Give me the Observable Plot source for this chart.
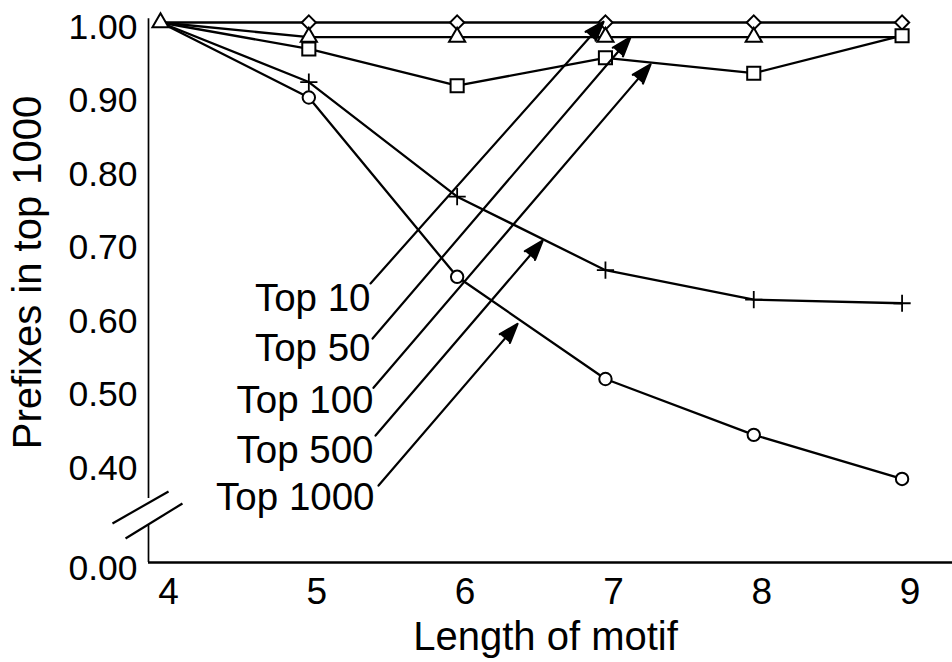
<!DOCTYPE html>
<html><head><meta charset="utf-8">
<script src="https://cdn.jsdelivr.net/npm/d3@7"></script>
<script src="https://cdn.jsdelivr.net/npm/@observablehq/plot@0.6"></script>
<style>body{margin:0;background:#fff}</style>
</head><body><div id="chart"></div>
<script>
// ---- data ----
const motifLength = [4, 5, 6, 7, 8, 9];
const top10   = [1.000, 1.000, 1.000, 1.000, 1.000, 1.000];
const top50   = [1.000, 0.980, 0.980, 0.980, 0.980, 0.980];
const top100  = [1.000, 0.964, 0.914, 0.952, 0.931, 0.982];
const top500  = [1.000, 0.919, 0.763, 0.663, 0.623, 0.618];
const top1000 = [1.000, 0.898, 0.654, 0.515, 0.439, 0.379];
const seriesNames = ["Top 10", "Top 50", "Top 100", "Top 500", "Top 1000"];
const yTickValues = [1.0, 0.9, 0.8, 0.7, 0.6, 0.5, 0.4];
const yBaseLabel = "0.00"; // value shown at the broken axis origin
const xTickValues = [4, 5, 6, 7, 8, 9];
// annotation labels and arrows (data units)
const labelX = [5.416, 5.416, 5.436, 5.436, 5.443];
const labelY = [0.6245, 0.5565, 0.4857, 0.4177, 0.3537];
const arrowX1 = [5.416, 5.430, 5.436, 5.450, 5.470];
const arrowY1 = [0.645, 0.570, 0.503, 0.438, 0.370];
const arrowX2 = [6.987, 7.169, 7.304, 6.576, 6.407];
const arrowY2 = [1.001, 0.980, 0.943, 0.703, 0.590];
// axis break marks (data units)
const breakX1 = [3.676, 3.764];
const breakY1 = [0.3184, 0.298];
const breakX2 = [4.054, 4.148];
const breakY2 = [0.3619, 0.3456];
const yAxisGap = [0.3156, 0.3524];

// ---- build tables ----
const seriesValues = [top10, top50, top100, top500, top1000];
const rows = [];
seriesNames.forEach((name, s) => motifLength.forEach((x, i) => rows.push({series: name, x, y: seriesValues[s][i]})));
const of = name => rows.filter(d => d.series === name);
const labels = seriesNames.map((name, i) => ({name, x: labelX[i], y: labelY[i]}));
const arrows = seriesNames.map((name, i) => ({x1: arrowX1[i], y1: arrowY1[i], x2: arrowX2[i], y2: arrowY2[i]}));
const breaks = breakX1.map((d, i) => ({x1: breakX1[i], y1: breakY1[i], x2: breakX2[i], y2: breakY2[i]}));

const xDomain = [3.919, 9.34];
const yDomain = [0.2653, 1.0];
const yAxisSegments = [{y1: yDomain[0], y2: yAxisGap[0]}, {y1: yAxisGap[1], y2: 1.005}];
const font = "'Liberation Sans', Arial, Helvetica, sans-serif";

const chart = Plot.plot({
  width: 952, height: 662,
  marginLeft: 148, marginRight: 0, marginTop: 22, marginBottom: 100,
  x: {domain: xDomain, axis: null},
  y: {domain: yDomain, axis: null},
  style: {fontFamily: font, background: "#fff", color: "#000", overflow: "visible"},
  marks: [
    // axes
    Plot.ruleY([yDomain[0]], {stroke: "#000", strokeWidth: 2.4}),
    Plot.ruleX(yAxisSegments, {x: xDomain[0], y1: "y1", y2: "y2", stroke: "#000", strokeWidth: 1.7}),
    Plot.link(breaks, {x1: "x1", y1: "y1", x2: "x2", y2: "y2", stroke: "#000", strokeWidth: 2.2}),
    Plot.text(yTickValues, {y: d => d, frameAnchor: "left", dx: -11, dy: 5, textAnchor: "end", text: d => d3.format(".2f")(d), fontSize: 35.5, fill: "#000"}),
    Plot.text([yBaseLabel], {frameAnchor: "bottom-left", dx: -11, dy: 6, textAnchor: "end", lineAnchor: "middle", fontSize: 35.5, fill: "#000"}),
    Plot.text(xTickValues, {x: d => d, frameAnchor: "bottom", dx: 8, dy: 30, lineAnchor: "middle", text: d => String(d), fontSize: 37, fill: "#000"}),
    Plot.text(["Length of motif"], {frameAnchor: "bottom", dx: -5, dy: 75, lineAnchor: "middle", fontSize: 40, fill: "#000"}),
    Plot.text(["Prefixes in top 1000"], {frameAnchor: "left", rotate: -90, dx: -120, dy: -20, textAnchor: "middle", lineAnchor: "middle", fontSize: 40, fill: "#000"}),
    // series lines
    Plot.line(rows, {x: "x", y: "y", z: "series", stroke: "#000", strokeWidth: 2.3}),
    // markers
    Plot.dot(of("Top 10").filter(d => d.x > 4), {x: "x", y: "y", symbol: "diamond2", r: 6.4, fill: "#fff", stroke: "#000", strokeWidth: 2}),
    Plot.dot(of("Top 50").filter(d => d.x > 4 && d.x < 9), {x: "x", y: "y", symbol: "triangle", r: 6, fill: "#fff", stroke: "#000", strokeWidth: 2}),
    Plot.dot(of("Top 100").filter(d => d.x > 4), {x: "x", y: "y", symbol: "square", r: 7.4, fill: "#fff", stroke: "#000", strokeWidth: 2}),
    Plot.dot(of("Top 500").filter(d => d.x > 4), {x: "x", y: "y", symbol: "plus", r: 5.6, fill: "none", stroke: "#000", strokeWidth: 1.8}),
    Plot.dot(of("Top 1000").filter(d => d.x > 4), {x: "x", y: "y", symbol: "circle", r: 6.2, fill: "#fff", stroke: "#000", strokeWidth: 2}),
    Plot.dot(of("Top 50").filter(d => d.x === 4), {x: "x", y: "y", symbol: "triangle", r: 6, fill: "#fff", stroke: "#000", strokeWidth: 2}),
    // annotations
    Plot.arrow(arrows, {x1: "x1", y1: "y1", x2: "x2", y2: "y2", stroke: "#000", fill: "#000", strokeWidth: 2.2, headLength: 14, headAngle: 38}),
    Plot.text(labels, {x: "x", y: "y", text: "name", textAnchor: "end", lineAnchor: "middle", fontSize: 38.5, fill: "#000"})
  ]
});
document.getElementById("chart").appendChild(chart);
</script>
</body></html>
